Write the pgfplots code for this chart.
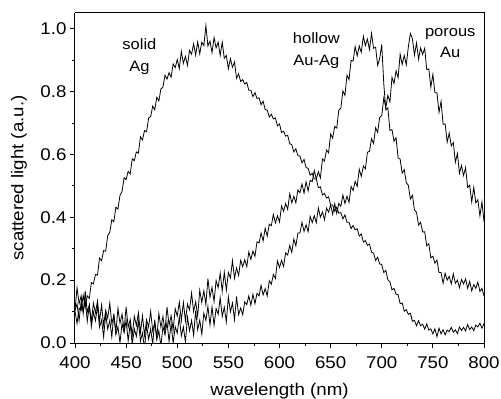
\documentclass[border=0pt]{standalone}
\usepackage{fontspec}
\setmainfont{Liberation Sans}
\newfontfamily\labfont[FakeStretch=1.1]{Liberation Sans}
\usepackage{pgfplots}
\usepackage{pgfplotstable}
\pgfplotsset{compat=1.18}
\pgfplotstableread{
x S H P
400 0.101 0.105 0.102
402 0.062 0.176 0.125
404 0.111 0.125 0.072
406 0.103 0.150 0.131
408 0.152 0.094 0.100
410 0.113 0.165 0.136
412 0.150 0.098 0.069
414 0.142 0.121 0.119
416 0.192 0.068 0.052
418 0.188 0.127 0.098
420 0.218 0.096 0.071
422 0.216 0.134 0.117
424 0.270 0.069 0.050
426 0.262 0.121 0.073
428 0.294 0.056 0.019
430 0.292 0.104 0.092
432 0.342 0.079 0.044
434 0.352 0.127 0.072
436 0.392 0.062 0.019
438 0.386 0.087 0.093
440 0.432 0.035 0.027
442 0.426 0.110 0.052
444 0.470 0.063 0.001
446 0.482 0.092 0.062
448 0.526 0.041 0.033
450 0.520 0.115 0.071
452 0.546 0.050 0.007
454 0.538 0.075 0.060
456 0.586 0.024 -0.004
458 0.580 0.085 0.045
460 0.608 0.056 0.021
462 0.604 0.096 0.070
464 0.656 0.033 0.006
466 0.646 0.087 0.032
468 0.676 0.024 -0.019
470 0.672 0.074 0.057
472 0.716 0.051 0.012
474 0.720 0.101 0.045
476 0.754 0.038 -0.004
478 0.742 0.065 0.074
480 0.782 0.015 0.012
482 0.770 0.094 0.039
484 0.808 0.050 -0.011
486 0.814 0.084 0.053
488 0.852 0.037 0.026
490 0.840 0.115 0.066
492 0.860 0.056 0.005
494 0.846 0.087 0.061
496 0.888 0.042 0.000
498 0.876 0.109 0.052
500 0.902 0.086 0.031
502 0.873 0.130 0.083
504 0.928 0.071 0.022
506 0.890 0.129 0.051
508 0.912 0.070 0.003
510 0.883 0.124 0.082
512 0.931 0.105 0.039
514 0.919 0.159 0.072
516 0.952 0.100 0.025
518 0.916 0.131 0.103
520 0.958 0.085 0.042
522 0.920 0.168 0.073
524 0.957 0.129 0.028
526 0.946 0.166 0.095
528 1.010 0.122 0.072
530 0.945 0.205 0.116
532 0.960 0.146 0.057
534 0.924 0.177 0.115
536 0.972 0.132 0.056
538 0.939 0.199 0.110
540 0.957 0.176 0.091
542 0.915 0.222 0.144
544 0.957 0.165 0.084
546 0.906 0.225 0.114
548 0.915 0.168 0.067
550 0.873 0.224 0.147
552 0.905 0.207 0.099
554 0.877 0.262 0.127
556 0.894 0.206 0.074
558 0.842 0.239 0.148
560 0.857 0.215 0.090
562 0.832 0.263 0.111
564 0.838 0.243 0.090
566 0.824 0.265 0.131
568 0.829 0.243 0.122
570 0.804 0.290 0.150
572 0.804 0.266 0.120
574 0.784 0.292 0.155
576 0.797 0.276 0.125
578 0.778 0.322 0.158
580 0.780 0.318 0.150
582 0.758 0.350 0.183
584 0.769 0.325 0.153
586 0.743 0.365 0.173
588 0.741 0.340 0.150
590 0.719 0.378 0.198
592 0.728 0.373 0.187
594 0.713 0.409 0.218
596 0.716 0.382 0.205
598 0.691 0.405 0.261
600 0.697 0.385 0.240
602 0.670 0.436 0.263
604 0.674 0.419 0.244
606 0.658 0.444 0.287
608 0.661 0.425 0.280
610 0.634 0.475 0.310
612 0.631 0.446 0.288
614 0.608 0.467 0.331
616 0.618 0.446 0.309
618 0.596 0.487 0.350
620 0.595 0.478 0.350
622 0.573 0.506 0.384
624 0.584 0.477 0.355
626 0.558 0.513 0.376
628 0.556 0.484 0.354
630 0.534 0.518 0.403
632 0.540 0.513 0.383
634 0.522 0.549 0.405
636 0.522 0.522 0.383
638 0.494 0.545 0.430
640 0.497 0.525 0.400
642 0.471 0.586 0.417
644 0.476 0.579 0.392
646 0.461 0.614 0.429
648 0.465 0.605 0.416
650 0.439 0.665 0.440
652 0.439 0.652 0.409
654 0.419 0.689 0.443
656 0.432 0.684 0.412
658 0.413 0.741 0.444
660 0.415 0.747 0.435
662 0.395 0.802 0.471
664 0.408 0.788 0.444
666 0.384 0.852 0.467
668 0.384 0.838 0.447
670 0.364 0.899 0.498
672 0.374 0.897 0.485
674 0.360 0.943 0.514
676 0.364 0.914 0.498
678 0.340 0.945 0.553
680 0.347 0.925 0.530
682 0.321 0.976 0.563
684 0.326 0.946 0.554
686 0.311 0.967 0.607
688 0.315 0.934 0.610
690 0.289 0.985 0.650
692 0.286 0.938 0.635
694 0.263 0.941 0.685
696 0.273 0.883 0.670
698 0.251 0.905 0.718
700 0.250 0.950 0.723
702 0.224 0.824 0.780
704 0.231 0.742 0.749
706 0.201 0.748 0.788
708 0.195 0.676 0.767
710 0.169 0.679 0.845
712 0.174 0.642 0.826
714 0.155 0.653 0.866
716 0.154 0.589 0.844
718 0.125 0.585 0.919
720 0.127 0.540 0.886
722 0.101 0.552 0.915
724 0.106 0.510 0.885
726 0.091 0.502 0.942
728 0.095 0.458 0.985
730 0.069 0.470 0.968
732 0.072 0.423 0.916
734 0.055 0.416 0.955
736 0.071 0.375 0.903
738 0.055 0.384 0.939
740 0.060 0.353 0.918
742 0.044 0.354 0.938
744 0.061 0.309 0.870
746 0.041 0.316 0.872
748 0.045 0.271 0.814
750 0.029 0.276 0.855
752 0.045 0.254 0.796
754 0.020 0.264 0.796
756 0.047 0.224 0.734
758 0.029 0.224 0.769
760 0.042 0.190 0.696
762 0.026 0.222 0.697
764 0.041 0.200 0.639
766 0.036 0.212 0.668
768 0.050 0.188 0.627
770 0.034 0.220 0.638
772 0.042 0.190 0.575
774 0.030 0.200 0.603
776 0.051 0.176 0.540
778 0.040 0.202 0.565
780 0.050 0.188 0.533
782 0.038 0.204 0.558
784 0.059 0.174 0.495
786 0.043 0.196 0.502
788 0.051 0.166 0.449
790 0.039 0.186 0.495
792 0.057 0.174 0.446
794 0.051 0.194 0.456
796 0.063 0.164 0.404
798 0.047 0.174 0.449
800 0.062 0.150 0.386
}\spectra
\begin{document}
\begin{tikzpicture}
\path[use as bounding box] (-75pt,-56pt) rectangle (426pt,343pt);
\begin{axis}[
  at={(0pt,0pt)}, anchor=south west,
  scale only axis, width=409pt, height=330pt,
  xmin=400, xmax=800, ymin=0, ymax=1.05,
  axis line style={line width=1pt},
  axis x line*=bottom, axis y line*=left,
  every outer x axis line/.append style={-},
  every outer y axis line/.append style={-},
  xtick={400,450,...,800}, minor x tick num=1,
  ytick={0,0.2,...,1.0}, minor y tick num=1,
  tick align=outside, major tick length=5pt, minor tick length=3pt,
  tick style={line width=0.8pt, black},
  /pgf/number format/assume math mode=true,
  tick label style={font=\labfont\fontsize{17}{20}\selectfont},
  yticklabel style={/pgf/number format/.cd, fixed, fixed zerofill, precision=1},
  xticklabel style={yshift=-5pt},
  label style={font=\labfont\fontsize{17}{20}\selectfont},
  xlabel={wavelength (nm)}, ylabel={scattered light (a.u.)},
  xlabel style={at={(axis description cs:0.5,-0.146)}, anchor=center},
  ylabel style={at={(axis description cs:-0.137,0.5)}, anchor=center},
  clip=true,
]
\addplot[black, line width=0.8pt] table[x=x, y=S] {\spectra};
\addplot[black, line width=0.8pt] table[x=x, y=H] {\spectra};
\addplot[black, line width=0.8pt] table[x=x, y=P] {\spectra};
\node[align=center, font=\labfont\fontsize{15}{22}\selectfont] at (axis cs:463,0.91) {solid\\Ag};
\node[align=center, font=\labfont\fontsize{15}{22}\selectfont] at (axis cs:636,0.93) {hollow\\Au-Ag};
\node[align=center, font=\labfont\fontsize{15}{21}\selectfont] at (axis cs:767,0.955) {porous\\Au};
\end{axis}
\draw[line width=1pt] (0pt,330pt) -- (409pt,330pt) -- (409pt,0pt);
\end{tikzpicture}
\end{document}
